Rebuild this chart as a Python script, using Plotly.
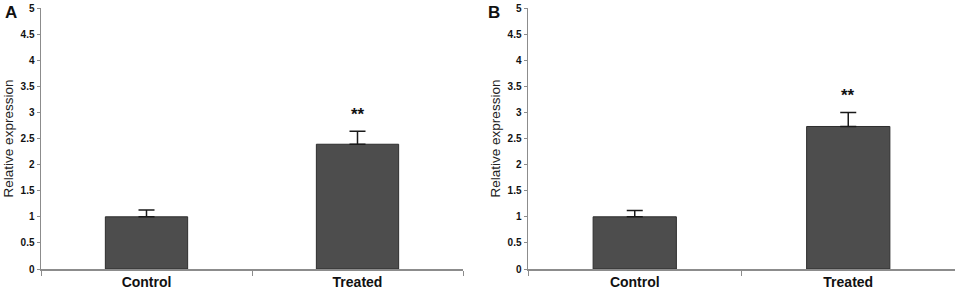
import plotly.graph_objects as go

categories = ["Control", "Treated"]
a_values = [1.0, 2.39]
a_err = [0.13, 0.25]
b_values = [1.0, 2.73]
b_err = [0.12, 0.27]
sig_labels = ["", "**"]
y_ticks = [0, 0.5, 1, 1.5, 2, 2.5, 3, 3.5, 4, 4.5, 5]
y_ticktext = ["0", "0.5", "1", "1.5", "2", "2.5", "3", "3.5", "4", "4.5", "5"]

W, H = 957, 294
FONT = "Liberation Sans, Arial, sans-serif"
BAR = "#4d4d4d"
AXIS = "#8c8c8c"

fig = go.Figure()
for vals, errs, xa, ya in [(a_values, a_err, "x", "y"), (b_values, b_err, "x2", "y2")]:
    fig.add_trace(go.Bar(
        x=categories, y=vals, xaxis=xa, yaxis=ya, width=0.39,
        marker=dict(color=BAR, line=dict(color="#2e2e2e", width=1)),
        error_y=dict(type="data", symmetric=False, array=errs, arrayminus=[0, 0],
                     color="#1a1a1a", thickness=1.5, width=8),
        showlegend=False, hoverinfo="skip",
    ))
    for c, v, e, s in zip(categories, vals, errs, sig_labels):
        if s:
            fig.add_annotation(x=c, y=v + e, xref=xa, yref=ya, text=s, showarrow=False,
                               yanchor="bottom", yshift=5,
                               font=dict(family=FONT, size=17, color="#111", weight="bold"))

ydom = [(H - 269) / H, (H - 8) / H]
common_x = dict(type="category", range=[-0.5, 1.5], showline=True, linecolor=AXIS, linewidth=1.5,
                ticks="outside", ticklen=5, tickcolor=AXIS, tickson="boundaries",
                tickfont=dict(family=FONT, size=14, color="#111", weight="bold"),
                showgrid=False, zeroline=False, automargin=False, fixedrange=True)
common_y = dict(range=[0, 5], tickvals=y_ticks, ticktext=y_ticktext, showline=True,
                linecolor=AXIS, linewidth=1.5, ticks="outside", ticklen=3, tickcolor=AXIS,
                tickfont=dict(family=FONT, size=10, color="#111", weight="bold"),
                showgrid=False, zeroline=False, domain=ydom, automargin=False, fixedrange=True,
                title=dict(text="Relative expression", font=dict(family=FONT, size=13.5, color="#222"),
                           standoff=4))

fig.update_layout(
    width=W, height=H, margin=dict(l=0, r=0, t=0, b=0, autoexpand=False),
    plot_bgcolor="white", paper_bgcolor="white", bargap=0.2,
    xaxis=dict(common_x, domain=[41 / W, 463 / W], anchor="y"),
    yaxis=dict(common_y, anchor="x"),
    xaxis2=dict(common_x, domain=[528 / W, 955 / W], anchor="y2"),
    yaxis2=dict(common_y, anchor="x2"),
)
fig.add_annotation(x=3 / W, y=1 - 12 / H, xref="paper", yref="paper", text="A", showarrow=False,
                   xanchor="left", yanchor="middle",
                   font=dict(family=FONT, size=17, color="#111", weight="bold"))
fig.add_annotation(x=486 / W, y=1 - 12 / H, xref="paper", yref="paper", text="B", showarrow=False,
                   xanchor="left", yanchor="middle",
                   font=dict(family=FONT, size=17, color="#111", weight="bold"))

fig.write_html("out.html", config={"displayModeBar": False, "staticPlot": True},
               post_script="document.body.style.margin='0';document.body.style.overflow='hidden';")
